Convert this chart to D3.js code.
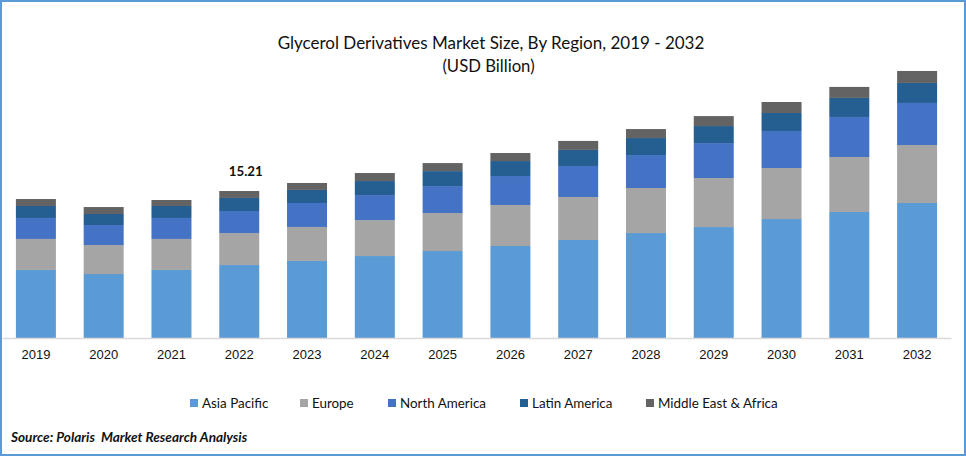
<!DOCTYPE html>
<html lang="en">
<head>
    <meta charset="UTF-8">
    <title>Glycerol Derivatives Market Size</title>
    <script src="https://d3js.org/d3.v7.min.js"></script>
    <style>
        html, body {
            margin: 0;
            padding: 0;
            background: #fff;
        }

        svg {
            display: block;
            font-family: Lato, "Noto Sans", sans-serif;
        }

        .x-axis .domain {
            stroke: #d9d9d9;
            stroke-width: 1.5;
        }

        .x-axis text {
            font-size: 13px;
            fill: #111;
        }
    </style>
</head>
<body>
    <script>
        // data
        const years = ["2019", "2020", "2021", "2022", "2023", "2024", "2025", "2026", "2027", "2028", "2029", "2030", "2031", "2032"];
        const regions = ["Asia Pacific", "Europe", "North America", "Latin America", "Middle East & Africa"];
        const asiaPacific = [7.04, 6.62, 7.04, 7.55, 7.97, 8.48, 9.00, 9.52, 10.14, 10.86, 11.48, 12.31, 13.04, 13.97];
        const europe = [3.21, 3.00, 3.21, 3.31, 3.52, 3.72, 3.93, 4.24, 4.45, 4.66, 5.07, 5.28, 5.69, 6.00];
        const northAmerica = [2.17, 2.07, 2.17, 2.28, 2.48, 2.59, 2.79, 3.00, 3.21, 3.41, 3.62, 3.83, 4.14, 4.35];
        const latinAmerica = [1.24, 1.14, 1.24, 1.35, 1.35, 1.45, 1.55, 1.55, 1.66, 1.76, 1.76, 1.86, 1.97, 2.07];
        const middleEastAfrica = [0.72, 0.72, 0.62, 0.72, 0.72, 0.83, 0.83, 0.83, 0.93, 0.93, 1.03, 1.14, 1.14, 1.24];
        const colors = ["#5b9bd5", "#a5a5a5", "#4472c4", "#255e91", "#636363"];
        const labelYear = "2022";
        const labelValue = "15.21";

        const width = 966;
        const height = 456;
        const baseline = 338;
        const pxPerUnit = 147 / 15.21;

        const rows = years.map((year, i) => ({
            year: year,
            "Asia Pacific": asiaPacific[i],
            "Europe": europe[i],
            "North America": northAmerica[i],
            "Latin America": latinAmerica[i],
            "Middle East & Africa": middleEastAfrica[i]
        }));

        const svg = d3.select("body").append("svg")
            .attr("width", width)
            .attr("height", height);

        // blue frame around the picture
        svg.append("rect")
            .attr("x", 1)
            .attr("y", 1)
            .attr("width", width - 2)
            .attr("height", height - 2)
            .attr("fill", "none")
            .attr("stroke", "#5b9bd5")
            .attr("stroke-width", 2);

        const xScale = d3.scaleBand()
            .domain(years)
            .range([2, 951])
            .paddingInner(0.41)
            .paddingOuter(0.205);

        const yMax = 27;
        const yScale = d3.scaleLinear()
            .domain([0, yMax])
            .range([baseline, baseline - yMax * pxPerUnit]);

        const colorScale = d3.scaleOrdinal().domain(regions).range(colors);

        const series = d3.stack().keys(regions)(rows);

        svg.append("g")
            .selectAll("g")
            .data(series)
            .enter()
            .append("g")
            .attr("fill", d => colorScale(d.key))
            .selectAll("rect")
            .data(d => d)
            .enter()
            .append("rect")
            .attr("x", d => xScale(d.data.year))
            .attr("y", d => yScale(d[1]))
            .attr("width", xScale.bandwidth())
            .attr("height", d => yScale(d[0]) - yScale(d[1]));

        const xAxis = d3.axisBottom(xScale).tickSize(0).tickPadding(12);
        svg.append("g")
            .attr("class", "x-axis")
            .attr("transform", `translate(0,${baseline})`)
            .call(xAxis);

        // value label above 2022
        svg.append("text")
            .attr("x", xScale(labelYear) + xScale.bandwidth() / 2 + 6.5)
            .attr("y", 176)
            .attr("text-anchor", "middle")
            .attr("font-size", 13.3)
            .attr("font-weight", 700)
            .attr("fill", "#111")
            .text(labelValue);

        // title
        svg.append("text")
            .attr("x", 491)
            .attr("y", 49)
            .attr("text-anchor", "middle")
            .attr("font-size", 17)
            .attr("fill", "#111")
            .text("Glycerol Derivatives Market Size, By Region, 2019 - 2032");

        svg.append("text")
            .attr("x", 488.5)
            .attr("y", 72)
            .attr("text-anchor", "middle")
            .attr("font-size", 16.7)
            .attr("fill", "#111")
            .text("(USD Billion)");

        // legend
        const legendX = d3.scaleOrdinal().domain(regions).range([190, 300, 388, 520, 646]);

        const legend = svg.append("g")
            .selectAll("g")
            .data(regions)
            .enter()
            .append("g")
            .attr("transform", d => `translate(${legendX(d)},399)`);

        legend.append("rect")
            .attr("width", 8)
            .attr("height", 8)
            .attr("fill", d => colorScale(d));

        legend.append("text")
            .attr("x", 12)
            .attr("y", 8.5)
            .attr("font-size", 13.4)
            .attr("fill", "#111")
            .text(d => d);

        // source note
        svg.append("text")
            .attr("x", 11)
            .attr("y", 442)
            .attr("font-size", 13.6)
            .attr("font-weight", 700)
            .attr("font-style", "italic")
            .attr("fill", "#111")
            .text("Source: Polaris  Market Research Analysis")
            .style("white-space", "pre");
    </script>
</body>
</html>
